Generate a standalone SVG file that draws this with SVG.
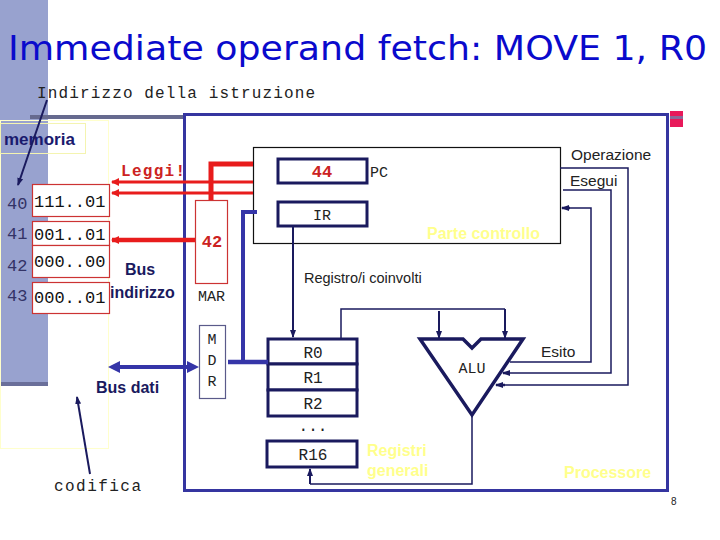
<svg xmlns="http://www.w3.org/2000/svg" width="720" height="540" viewBox="0 0 720 540">
<defs>
<style>
.mono{font-family:"Liberation Mono","Courier New",monospace;}
.sans{font-family:"Liberation Sans",Arial,sans-serif;}
.cell{fill:#fff;stroke:#cc3333;stroke-width:1.2;}
.reg{fill:#fff;stroke:#1a1a5e;stroke-width:3;}
.thin{fill:none;stroke:#1a1a5e;stroke-width:1.5;}
.red{fill:none;stroke:#e81c1c;}
.blue{fill:none;stroke:#3535a8;}
.yel{fill:#ffff8c;font-weight:bold;font-size:16px;}
</style>
<marker id="ahR" markerWidth="8" markerHeight="8" refX="7" refY="4" orient="auto" markerUnits="userSpaceOnUse"><path d="M0,0 L8,4 L0,8 z" fill="#e81c1c"/></marker>
<marker id="ahN" markerWidth="8" markerHeight="8" refX="7" refY="4" orient="auto" markerUnits="userSpaceOnUse"><path d="M0,1 L8,4 L0,7 z" fill="#1a1a5e"/></marker>
</defs>
<rect width="720" height="540" fill="#fff"/>
<!-- background band -->
<g id="band">
<rect x="0" y="0" width="48" height="386" fill="#98a2cf"/>
<rect x="0" y="382" width="48" height="4" fill="#6a6f9a"/>
<rect x="30" y="115" width="153" height="4" fill="#666a8f"/>
<rect x="670" y="111" width="13" height="16" fill="#e8195a"/>
<rect x="670" y="116" width="13" height="3" fill="#8a6a9a"/>
</g>
<text x="8" y="60" font-family="DejaVu Sans,Verdana,sans-serif" font-size="34" fill="#0a0acc" textLength="699" lengthAdjust="spacingAndGlyphs">Immediate operand fetch: MOVE 1, R0</text>
<text class="mono" x="37" y="98" font-size="16" fill="#222" textLength="278" lengthAdjust="spacing">Indirizzo della istruzione</text>
<!-- memory -->
<g id="memory">
<rect x="0.5" y="120.5" width="108" height="328" fill="none" stroke="#ffffcc" stroke-width="1"/>
<rect x="0.5" y="123.5" width="85" height="30" fill="none" stroke="#f4f4b0" stroke-width="1"/>
<text class="sans" x="4" y="145" font-size="17" font-weight="bold" fill="#1a1a6e">memoria</text>
<rect class="cell" x="32.5" y="184.5" width="77" height="32"/>
<rect class="cell" x="32.5" y="221.5" width="77" height="24"/>
<rect class="cell" x="32.5" y="245.5" width="77" height="32"/>
<rect class="cell" x="32.5" y="282.5" width="77" height="31"/>
<g class="mono" font-size="17" fill="#111">
<text x="34" y="207">111..01</text>
<text x="34" y="240">001..01</text>
<text x="34" y="267">000..00</text>
<text x="34" y="303">000..01</text>
</g>
<g class="mono" font-size="17" fill="#333366">
<text x="7" y="209">40</text>
<text x="7" y="239">41</text>
<text x="7" y="271">42</text>
<text x="7" y="301">43</text>
</g>
</g>
<g class="sans" font-size="16" font-weight="bold" fill="#1a1a5e">
<text x="125" y="275">Bus</text>
<text x="110" y="298">indirizzo</text>
<text x="96" y="393">Bus dati</text>
</g>
<text class="mono" x="54" y="491" font-size="16" fill="#222" textLength="87" lengthAdjust="spacing">codifica</text>
<text class="mono" x="121" y="176" font-size="16" font-weight="bold" fill="#cc2222" textLength="64" lengthAdjust="spacing">Leggi!</text>
<!-- processor -->
<g id="processor">
<rect x="184.5" y="114.5" width="483" height="376" fill="none" stroke="#3535a0" stroke-width="3"/>
<text class="sans yel" x="564" y="478">Processore</text>
</g>
<g id="MAR">
<rect x="195.5" y="200.5" width="32" height="83" fill="#fff" stroke="#cc3333" stroke-width="1.2"/>
<text class="mono" x="212" y="247" font-size="17" font-weight="bold" fill="#cc2222" text-anchor="middle">42</text>
<text class="mono" x="198" y="301" font-size="15" fill="#222">MAR</text>
</g>
<g id="MDR">
<rect x="199.5" y="325.5" width="26" height="73" fill="#fff" stroke="#5a5a8a" stroke-width="1.2"/>
<g class="mono" font-size="15" fill="#222" text-anchor="middle">
<text x="212" y="344">M</text>
<text x="212" y="365">D</text>
<text x="212" y="386">R</text>
</g>
</g>
<g id="control">
<rect x="253.5" y="147.5" width="307" height="96" fill="#fff" stroke="#111" stroke-width="1.2"/>
<text class="sans yel" x="427" y="239">Parte controllo</text>
</g>
<g id="PC">
<rect class="reg" x="278" y="159" width="89" height="24"/>
<text class="mono" x="322" y="177" font-size="17" font-weight="bold" fill="#cc2222" text-anchor="middle">44</text>
<text class="mono" x="370" y="177" font-size="15" fill="#222">PC</text>
</g>
<g id="IR">
<rect class="reg" x="278" y="202" width="89" height="24"/>
<text class="mono" x="322" y="220" font-size="15" fill="#222" text-anchor="middle">IR</text>
</g>
<g id="registers">
<rect class="reg" x="268" y="339" width="89" height="25"/>
<rect class="reg" x="268" y="364" width="89" height="26"/>
<rect class="reg" x="268" y="390" width="89" height="26"/>
<rect class="reg" x="267" y="441" width="90" height="26"/>
<g class="mono" font-size="16" fill="#222" text-anchor="middle">
<text x="313" y="358">R0</text>
<text x="313" y="383">R1</text>
<text x="313" y="409">R2</text>
<text x="313" y="431">...</text>
<text x="313" y="460">R16</text>
</g>
<text class="sans yel" x="367" y="456">Registri</text>
<text class="sans yel" x="367" y="476">generali</text>
</g>
<g id="ALU">
<path d="M420,339 L463,339 L472,348 L481,339 L523,339 L472,415 Z" fill="#fff" stroke="#1a1a5e" stroke-width="3.5" stroke-linejoin="miter"/>
<text class="mono" x="472" y="373" font-size="15" fill="#222" text-anchor="middle">ALU</text>
</g>
<g class="sans" font-size="15.5" fill="#222">
<text x="571" y="160">Operazione</text>
<text x="570" y="186">Esegui</text>
<text x="541" y="357">Esito</text>
<text x="304" y="283" font-size="14.5">Registro/i coinvolti</text>
</g>
<text class="sans" x="671" y="505" font-size="10" fill="#222">8</text>
<!-- connectors -->
<g id="connectors">
<line x1="47" y1="100" x2="18" y2="185" stroke="#1a1a5e" stroke-width="2" marker-end="url(#ahN)"/>
<line x1="90" y1="474" x2="77" y2="397" stroke="#1a1a5e" stroke-width="2" marker-end="url(#ahN)"/>
<!-- red -->
<polyline class="red" points="253,164 211,164 211,200" stroke-width="5"/>
<line class="red" x1="253" y1="182" x2="112" y2="182" stroke-width="3" marker-end="url(#ahR)"/>
<line class="red" x1="253" y1="193" x2="112" y2="193" stroke-width="3" marker-end="url(#ahR)"/>
<line class="red" x1="195" y1="240" x2="112" y2="240" stroke-width="4.5" marker-end="url(#ahR)"/>
<!-- blue data bus -->
<line class="blue" x1="118" y1="367" x2="190" y2="367" stroke-width="4"/>
<path d="M108,367 L120,361 L120,373 Z" fill="#3535a8"/>
<path d="M199,367 L187,361 L187,373 Z" fill="#3535a8"/>
<polyline class="blue" points="257,212 243,212 243,362" stroke-width="4"/>
<line class="blue" x1="228" y1="362" x2="268" y2="362" stroke-width="4.5"/>
<!-- IR to R0 -->
<line x1="293" y1="226" x2="293" y2="337" stroke="#1a1a5e" stroke-width="2" marker-end="url(#ahN)"/>
<!-- R0 to ALU inputs -->
<polyline class="thin" points="341,339 341,309 505,309"/>
<line x1="439" y1="311" x2="439" y2="338" stroke="#1a1a5e" stroke-width="2" marker-end="url(#ahN)"/>
<line x1="505" y1="309" x2="505" y2="338" stroke="#1a1a5e" stroke-width="2" marker-end="url(#ahN)"/>
<!-- ALU output to R16 -->
<polyline class="thin" points="472,416 472,484 310,484"/>
<line x1="310" y1="484" x2="310" y2="469" stroke="#1a1a5e" stroke-width="2" marker-end="url(#ahN)"/>
<!-- control signals -->
<polyline class="thin" points="560,168 628,168 628,385 505,385"/>
<line x1="505" y1="385" x2="496" y2="385" stroke="#1a1a5e" stroke-width="2.5" marker-end="url(#ahN)"/>
<polyline class="thin" points="563,190 611,190 611,373 510,373"/>
<line x1="510" y1="373" x2="503" y2="373" stroke="#1a1a5e" stroke-width="2.5" marker-end="url(#ahN)"/>
<polyline class="thin" points="510,362 591,362 591,208 570,208"/>
<line x1="570" y1="208" x2="562" y2="208" stroke="#1a1a5e" stroke-width="2.5" marker-end="url(#ahN)"/>
</g>
</svg>
